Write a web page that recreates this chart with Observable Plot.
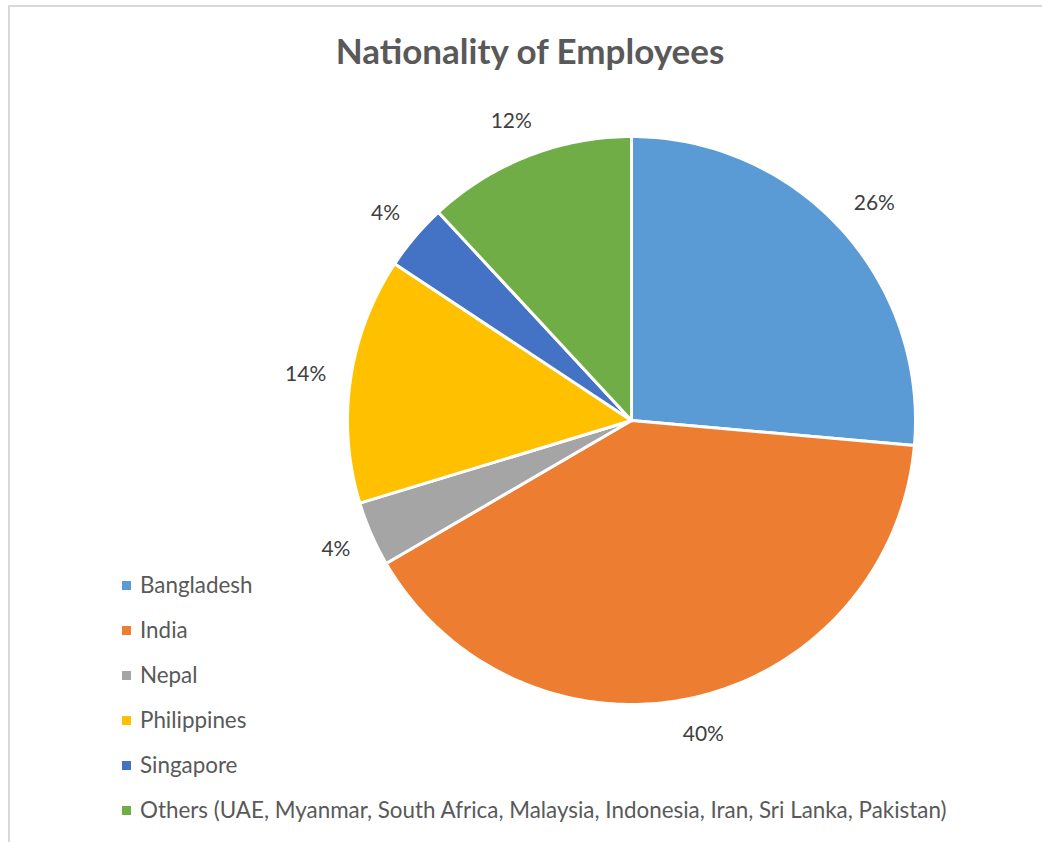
<!DOCTYPE html>
<html>
<head>
<meta charset="utf-8">
<script src="https://cdn.jsdelivr.net/npm/d3@7"></script>
<script src="https://cdn.jsdelivr.net/npm/@observablehq/plot@0.6"></script>
<style>
  html, body { margin: 0; padding: 0; background: #fff; }
  #wrap { position: relative; width: 1042px; height: 842px; overflow: hidden; font-family: Lato, "Open Sans", sans-serif; }
  #frame { position: absolute; left: 8px; top: 5px; width: 1100px; height: 900px; border-left: 2px solid #d9d9d9; border-top: 2px solid #d9d9d9; }
  #title { position: absolute; left: 0; width: 1060px; top: 29px; text-align: center; font-size: 35px; line-height: 42px; font-weight: bold; color: #595959; }
  #chart { position: absolute; left: 0; top: 0; }
  #legend { position: absolute; left: 122px; top: 571px; }
  .item { height: 45.1px; display: flex; align-items: flex-start; font-size: 22.4px; line-height: 28px; color: #595959; white-space: nowrap; }
  .sw { width: 9px; height: 9px; margin-top: 10px; margin-right: 9px; flex: none; }
</style>
</head>
<body>
<div id="wrap">
  <div id="frame"></div>
  <div id="chart"></div>
  <div id="title">Nationality of Employees</div>
  <div id="legend"></div>
</div>
<script>
const categories = ["Bangladesh", "India", "Nepal", "Philippines", "Singapore",
  "Others (UAE, Myanmar, South Africa, Malaysia, Indonesia, Iran, Sri Lanka, Pakistan)"];
const values = [26.4, 40.2, 3.7, 14.0, 3.8, 11.9];
const colors = ["#5B9BD5", "#ED7D31", "#A5A5A5", "#FFC000", "#4472C4", "#70AD47"];

const total = d3.sum(values);
const arcs = d3.pie().sort(null).value(d => d)(values);

const cx = 631, cy = 420, R = 284;
const gap = 25, halfH = 12, charW = 13.5;

// build slice outlines in data space (unit circle) and outside-end label anchors
const slicePts = [];
const labels = [];
arcs.forEach((a, i) => {
  const name = categories[i];
  slicePts.push({name, x: 0, y: 0});
  const n = Math.max(4, Math.ceil((a.endAngle - a.startAngle) / (Math.PI * 2) * 360));
  for (let k = 0; k <= n; k++) {
    const t = a.startAngle + (a.endAngle - a.startAngle) * k / n;
    slicePts.push({name, x: Math.sin(t), y: Math.cos(t)});
  }
  slicePts.push({name, x: 0, y: 0});
  const mid = (a.startAngle + a.endAngle) / 2;
  const text = Math.round(values[i] / total * 100) + "%";
  const halfW = text.length * charW / 2;
  const s = Math.sin(mid), c = Math.cos(mid);
  labels.push({name, text,
    x: ((R + gap) * s + halfW * s) / R,
    y: ((R + gap) * c + halfH * c) / R});
});

const chart = Plot.plot({
  width: 1042,
  height: 842,
  margin: 0,
  style: {background: "transparent", overflow: "visible"},
  x: {domain: [-1, 1], range: [cx - R, cx + R], axis: null},
  y: {domain: [-1, 1], range: [cy + R, cy - R], axis: null},
  color: {domain: categories, range: colors, type: "ordinal"},
  marks: [
    Plot.line(slicePts, {x: "x", y: "y", z: "name", fill: "name", stroke: "white", strokeWidth: 3, strokeLinejoin: "round", curve: "linear"}),
    Plot.text(labels, {x: "x", y: "y", text: "text", fontSize: 21, fill: "#404040", fontFamily: "Lato, sans-serif"})
  ]
});
document.getElementById("chart").appendChild(chart);

const legend = document.getElementById("legend");
categories.forEach((c, i) => {
  const row = document.createElement("div");
  row.className = "item";
  const sw = document.createElement("span");
  sw.className = "sw";
  sw.style.background = colors[i];
  const tx = document.createElement("span");
  tx.textContent = c;
  row.appendChild(sw);
  row.appendChild(tx);
  legend.appendChild(row);
});
</script>
</body>
</html>
